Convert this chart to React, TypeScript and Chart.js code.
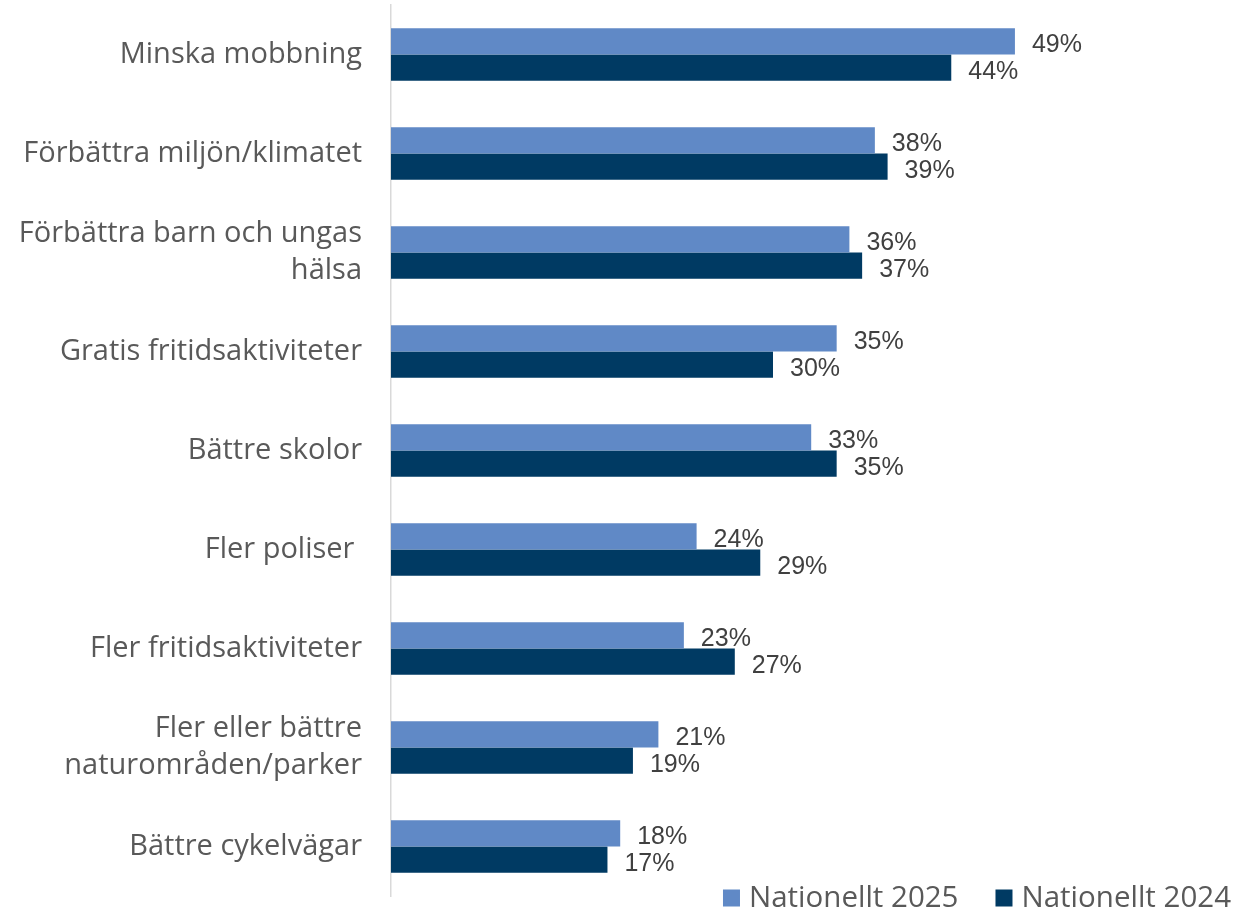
import React, { useEffect, useRef } from "react";
import { Chart, registerables } from "chart.js";

Chart.register(...registerables);

const categories: (string | string[])[] = [
  "Minska mobbning",
  "Förbättra miljön/klimatet",
  ["Förbättra barn och ungas", "hälsa"],
  "Gratis fritidsaktiviteter",
  "Bättre skolor",
  "Fler poliser ",
  "Fler fritidsaktiviteter",
  ["Fler eller bättre", "naturområden/parker"],
  "Bättre cykelvägar",
];
const series2025 = [49, 38, 36, 35, 33, 24, 23, 21, 18];
const series2024 = [44, 39, 37, 30, 35, 29, 27, 19, 17];
const seriesNames = ["Nationellt 2025", "Nationellt 2024"];
const seriesColors = ["#6089C6", "#003A63"];

const FONT = "'Open Sans', 'Noto Sans', sans-serif";
const LABEL_FONT = "'Liberation Sans', Arial, sans-serif";

const dataLabelPlugin = {
  id: "dataLabels",
  afterDatasetsDraw(chart: any) {
    const ctx = chart.ctx;
    ctx.save();
    ctx.font = `25px ${LABEL_FONT}`;
    ctx.fillStyle = "#404040";
    ctx.textAlign = "left";
    ctx.textBaseline = "middle";
    chart.data.datasets.forEach((ds: any, di: number) => {
      const meta = chart.getDatasetMeta(di);
      meta.data.forEach((bar: any, i: number) => {
        ctx.fillText(`${ds.data[i]}%`, bar.x + 17, bar.y + 4);
      });
    });
    ctx.restore();
  },
};

const legendPlugin = {
  id: "customLegend",
  afterDraw(chart: any) {
    const ctx = chart.ctx;
    ctx.save();
    ctx.font = `29.5px ${FONT}`;
    ctx.textBaseline = "middle";
    const box = 17;
    const gapBoxText = 9;
    const gapItems = 37;
    const right = chart.width - 4;
    const cy = chart.height - 16;
    const widths = seriesNames.map((n) => ctx.measureText(n).width);
    let total = 0;
    widths.forEach((w, i) => {
      total += box + gapBoxText + w + (i > 0 ? gapItems : 0);
    });
    let x = right - total;
    seriesNames.forEach((n, i) => {
      ctx.fillStyle = seriesColors[i];
      ctx.fillRect(x, cy - box / 2, box, box);
      ctx.fillStyle = "#595959";
      ctx.textAlign = "left";
      ctx.fillText(n, x + box + gapBoxText, cy + 1);
      x += box + gapBoxText + widths[i] + gapItems;
    });
    ctx.restore();
  },
};

export default function App() {
  const ref = useRef<HTMLCanvasElement | null>(null);
  useEffect(() => {
    if (!ref.current) return;
    const chart = new Chart(ref.current, {
      type: "bar",
      data: {
        labels: categories,
        datasets: [
          {
            label: seriesNames[0],
            data: series2025,
            backgroundColor: seriesColors[0],
            barPercentage: 1,
            categoryPercentage: 0.53,
          },
          {
            label: seriesNames[1],
            data: series2024,
            backgroundColor: seriesColors[1],
            barPercentage: 1,
            categoryPercentage: 0.53,
          },
        ],
      },
      options: {
        indexAxis: "y",
        responsive: false,
        maintainAspectRatio: false,
        animation: false,
        layout: { padding: { top: 5, right: 80, bottom: 18, left: 0 } },
        plugins: {
          legend: { display: false },
          tooltip: { enabled: false },
        },
        scales: {
          x: {
            display: false,
            min: 0,
            max: 60,
          },
          y: {
            afterFit(scale: any) {
              scale.width = 391;
              scale.paddingTop = 0;
              scale.paddingBottom = 0;
            },
            grid: { display: false, drawTicks: false },
            border: { display: true, color: "#D9D9D9", width: 1.5 },
            ticks: {
              color: "#595959",
              font: { family: FONT, size: 29, lineHeight: 1.27 },
              padding: 29,
            },
          },
        },
      },
      plugins: [dataLabelPlugin, legendPlugin],
    });
    return () => chart.destroy();
  }, []);
  return (
    <div style={{ position: "absolute", left: 0, top: 0, width: 1235, height: 914, background: "#fff" }}>
      <canvas ref={ref} width={1235} height={914} style={{ width: 1235, height: 914 }} />
    </div>
  );
}
